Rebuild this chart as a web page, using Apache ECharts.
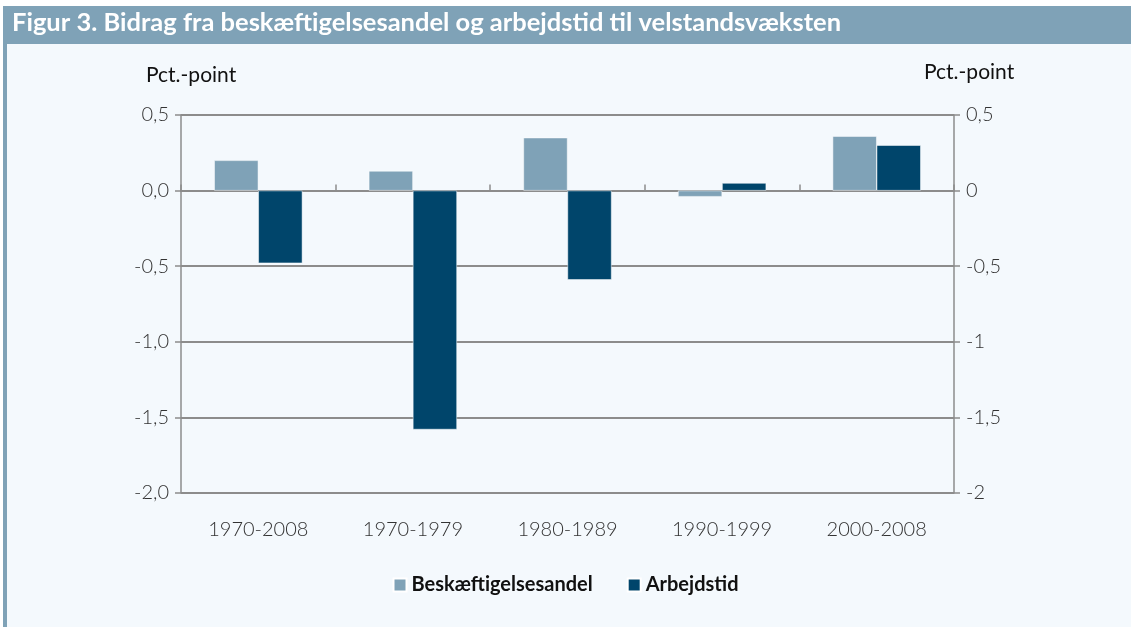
<!DOCTYPE html>
<html>
<head>
<meta charset="utf-8">
<script src="https://cdn.jsdelivr.net/npm/echarts@6/dist/echarts.min.js"></script>
<style>
  html, body { margin: 0; padding: 0; background: #ffffff; }
  #chart { width: 1131px; height: 627px; }
</style>
</head>
<body>
<div id="chart"></div>
<script>
// data
var periods = ['1970-2008', '1970-1979', '1980-1989', '1990-1999', '2000-2008'];
var beskaeftigelse = [0.20, 0.13, 0.35, -0.04, 0.36];
var arbejdstid = [-0.48, -1.58, -0.59, 0.05, 0.30];

var lightBlue = '#7fa2b7';
var darkBlue = '#00456b';
var gridGray = '#8c8c8c';
var font = 'Lato';

var chart = echarts.init(document.getElementById('chart'));

var option = {
  backgroundColor: '#ffffff',
  textStyle: { fontFamily: font },
  graphic: [
    // panel background
    { type: 'rect', z: -10, shape: { x: 3, y: 6, width: 1128, height: 621 }, style: { fill: '#f4f9fd' } },
    // title bar
    { type: 'rect', z: -5, shape: { x: 3, y: 6, width: 1128, height: 38 }, style: { fill: lightBlue } },
    // left border
    { type: 'rect', z: -5, shape: { x: 3, y: 6, width: 4, height: 621 }, style: { fill: lightBlue } },
    {
      type: 'text', left: 12, top: 10,
      style: { text: 'Figur 3. Bidrag fra beskæftigelsesandel og arbejdstid til velstandsvæksten',
        fill: '#ffffff', font: 'bold 25.5px ' + font }
    },
    {
      type: 'text', left: 146, top: 65,
      style: { text: 'Pct.-point', fill: '#111111', font: '21px ' + font }
    },
    {
      type: 'text', left: 924, top: 62,
      style: { text: 'Pct.-point', fill: '#111111', font: '21px ' + font }
    }
  ],
  legend: {
    bottom: 27,
    left: 'center',
    itemWidth: 13,
    itemHeight: 13,
    itemGap: 34,
    icon: 'rect',
    textStyle: { fontFamily: font, fontWeight: 'bold', fontSize: 20, color: '#111111' },
    data: ['Beskæftigelsesandel', 'Arbejdstid']
  },
  grid: { left: 181, right: 177, top: 115, bottom: 134 },
  xAxis: [
    {
      type: 'category',
      data: periods,
      position: 'bottom',
      axisLine: { onZero: false, show: false },
      axisTick: { show: false },
      axisLabel: { color: '#333333', fontSize: 20, margin: 27, fontFamily: font, fontWeight: 300 }
    },
    {
      type: 'category',
      data: periods,
      axisLine: { onZero: true, lineStyle: { color: gridGray, width: 2 } },
      axisTick: { show: true, length: 6, inside: false, lineStyle: { color: gridGray, width: 1.5 } },
      axisLabel: { show: false }
    }
  ],
  yAxis: [
    {
      type: 'value',
      min: -2, max: 0.5, interval: 0.5,
      axisLine: { show: true, lineStyle: { color: gridGray, width: 1.5 } },
      axisTick: { show: true, length: 6, lineStyle: { color: gridGray, width: 1.5 } },
      splitLine: { show: true, lineStyle: { color: gridGray, width: 2 } },
      axisLabel: {
        color: '#333333', fontSize: 20, margin: 12, fontFamily: font, fontWeight: 300,
        formatter: function (v) { return v.toFixed(1).replace('.', ','); }
      }
    },
    {
      type: 'value',
      position: 'right',
      min: -2, max: 0.5, interval: 0.5,
      axisLine: { show: true, lineStyle: { color: gridGray, width: 1.5 } },
      axisTick: { show: true, length: 6, lineStyle: { color: gridGray, width: 1.5 } },
      splitLine: { show: false },
      axisLabel: {
        color: '#333333', fontSize: 20, margin: 12, fontFamily: font, fontWeight: 300,
        formatter: function (v) { return String(v).replace('.', ','); }
      }
    }
  ],
  series: [
    {
      name: 'Beskæftigelsesandel',
      type: 'bar',
      xAxisIndex: 0,
      data: beskaeftigelse,
      barGap: '0%',
      barCategoryGap: '43%',
      itemStyle: { color: lightBlue, borderColor: '#ffffff', borderWidth: 0.5 },
      z: 1
    },
    {
      name: 'Arbejdstid',
      type: 'bar',
      xAxisIndex: 0,
      data: arbejdstid,
      barGap: '0%',
      barCategoryGap: '43%',
      itemStyle: { color: darkBlue, borderColor: '#ffffff', borderWidth: 0.5 },
      z: 1
    }
  ]
};

chart.setOption(option);
</script>
</body>
</html>
